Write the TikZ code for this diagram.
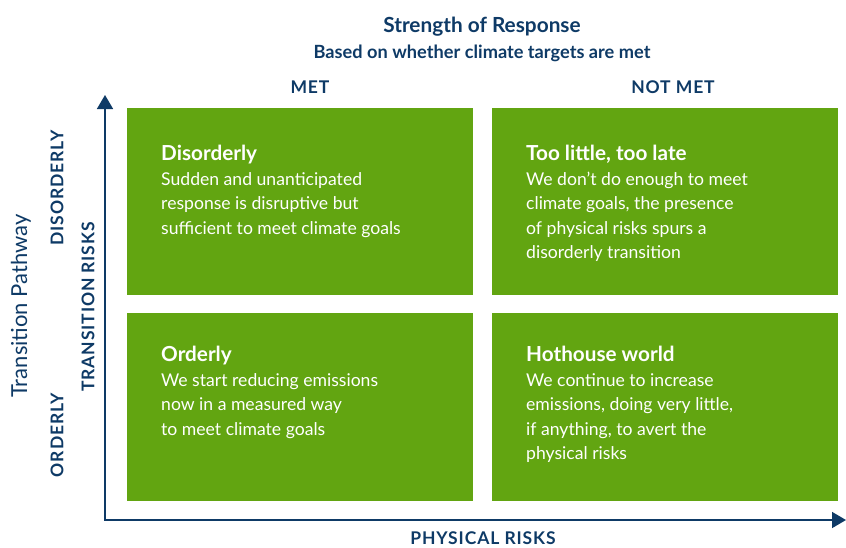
\documentclass[tikz,border=0pt]{standalone}
\usepackage{fontspec}
\setmainfont{Lato}
\newfontfamily\capsfont[LetterSpace=5.0]{Lato}
\usepackage{tikz}
\usetikzlibrary{arrows.meta}
\definecolor{navy}{HTML}{0E3A66}
\definecolor{leaf}{HTML}{62A511}

\tikzset{
  quad/.style={fill=leaf, minimum width=346pt, minimum height=187pt, anchor=north west, inner sep=0pt},
  quadtext/.style={text=white, anchor=north west, align=left, inner sep=0pt, font=\fontsize{17.6}{24.5}\selectfont},
  axislabel/.style={text=navy, font=\capsfont\bfseries\fontsize{17.5}{20}\selectfont, inner sep=0pt},
  axis/.style={navy, line width=1.6pt, -{Triangle[length=14pt,width=16pt]}}
}
\newcommand{\quadtitle}[1]{{\fontsize{20.7}{24.5}\selectfont\bfseries #1}}

\begin{document}
\begin{tikzpicture}[x=1pt, y=-1pt]
              \useasboundingbox (0,0) rectangle (846,547);
              % headings
              \node[text=navy, font=\bfseries\fontsize{20.8}{24}\selectfont] (head) at (482,27) {Strength of Response};
              \node[text=navy, font=\bfseries\fontsize{18.2}{20}\selectfont] (subhead) at (482,53) {Based on whether climate targets are met};
              \node[axislabel] (met) at (310,87) {MET};
              \node[axislabel] (notmet) at (673,87) {NOT MET};
              % the four scenarios
              \node[quad] (dis) at (127,108) {};
              \node[quad] (late) at (492,108) {};
              \node[quad, minimum height=188pt] (ord) at (127,313) {};
              \node[quad, minimum height=188pt] (hot) at (492,313) {};
              \node[quadtext] at ([xshift=34pt, yshift=-37pt]dis.north west) {\quadtitle{Disorderly}\\
                Sudden and unanticipated\\ response is disruptive but\\ sufficient to meet climate goals};
              \node[quadtext] at ([xshift=34pt, yshift=-37pt]late.north west) {\quadtitle{Too little, too late}\\
                We don’t do enough to meet\\ climate goals, the presence\\ of physical risks spurs a\\ disorderly transition};
              \node[quadtext] at ([xshift=34pt, yshift=-33pt]ord.north west) {\quadtitle{Orderly}\\
                We start reducing emissions\\ now in a measured way\\ to meet climate goals};
              \node[quadtext] at ([xshift=34pt, yshift=-33pt]hot.north west) {\quadtitle{Hothouse world}\\
                We continue to increase\\ emissions, doing very little,\\ if anything, to avert the\\ physical risks};
              % axes
              \coordinate (origin) at (105,520);
              \coordinate (ytip) at (105,95);
              \coordinate (xtip) at (846,520);
              \draw[axis] (origin) -- (ytip);
              \draw[axis, shorten <=-0.8pt] (origin) -- (xtip);
              \node[axislabel] (xlab) at (483,538) {PHYSICAL RISKS};
              \node[axislabel, rotate=90] (ylab) at (88,307) {TRANSITION RISKS};
              \node[axislabel, rotate=90] (hi) at (57,188) {DISORDERLY};
              \node[axislabel, rotate=90] (lo) at (57,435) {ORDERLY};
              \node[text=navy, rotate=90, font=\fontsize{22}{24}\selectfont] (path) at (21,306) {Transition Pathway};
            \end{tikzpicture}
\end{document}
